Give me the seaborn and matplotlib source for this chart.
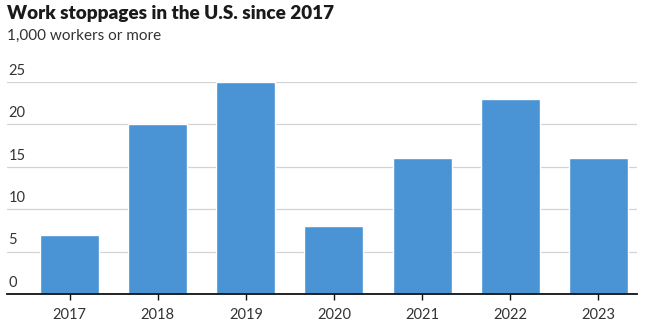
import matplotlib
matplotlib.use("Agg")
import matplotlib.pyplot as plt
import matplotlib.transforms as mtransforms
import seaborn as sns
import pandas as pd

years = ["2017", "2018", "2019", "2020", "2021", "2022", "2023"]
stoppages = [7, 20, 25, 8, 16, 23, 16]
y_ticks = [0, 5, 10, 15, 20, 25]

sns.set_theme(style="white")
plt.rcParams["font.family"] = ["Lato", "DejaVu Sans"]

df = pd.DataFrame({"year": years, "count": stoppages})

fig = plt.figure(figsize=(6.45, 3.23), dpi=100)
ax = fig.add_axes([0.0109, 0.0898, 0.9767, 0.6562])

sns.barplot(data=df, x="year", y="count", color="#4A93D4", saturation=1,
            width=0.67, ax=ax)

ax.set_ylim(0, 25)
ax.set_xlim(-0.71, 6.44)
ax.set_yticks(y_ticks)
ax.set_yticklabels([])
ax.tick_params(axis="y", length=0)
ax.set_xlabel("")
ax.set_ylabel("")
for y in y_ticks[1:]:
    ax.axhline(y, color="#d3d3d3", lw=0.9, zorder=0)

trans = mtransforms.blended_transform_factory(ax.transAxes, ax.transData)
offset = mtransforms.ScaledTranslation(0, 3/72, fig.dpi_scale_trans)
for y in y_ticks:
    ax.text(0.002, y, str(y), transform=trans + offset, ha="left", va="bottom",
            fontsize=10.5, color="#333333")

for s in ["top", "right", "left"]:
    ax.spines[s].set_visible(False)
ax.spines["bottom"].set_color("#111111")
ax.spines["bottom"].set_linewidth(1.3)
ax.tick_params(axis="x", length=4, width=1, color="#111111", direction="out",
               bottom=True, labelsize=10.5, labelcolor="#333333", pad=6)

fig.text(0.011, 0.958, "Work stoppages in the U.S. since 2017", fontsize=13.6,
         fontweight="heavy", color="#1a1a1a", ha="left", va="center")
fig.text(0.011, 0.888, "1,000 workers or more", fontsize=11,
         color="#333333", ha="left", va="center")

fig.savefig("out.png", dpi=100)
